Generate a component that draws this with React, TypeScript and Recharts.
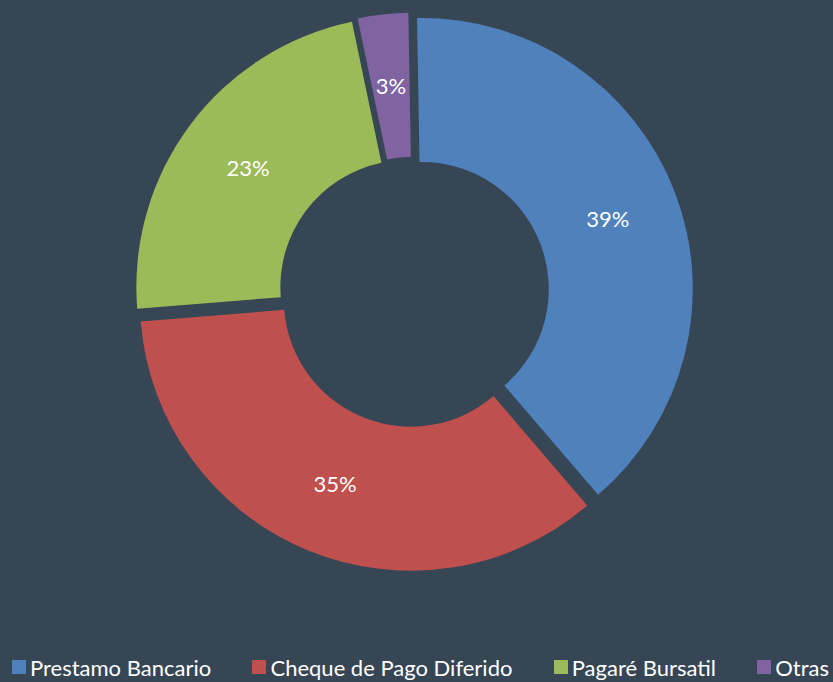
import { PieChart, Pie, Cell } from 'recharts';

const categories = ['Prestamo Bancario', 'Cheque de Pago Diferido', 'Pagaré Bursatil', 'Otras'];
const shares = [39, 35, 23, 3];
const colors = ['#4F81BD', '#C0504D', '#9BBB59', '#8064A2'];

const BG = '#374655';
const FONT = 'Lato, "Open Sans", sans-serif';
const CX = 414;
const CY = 292;
const OUTER = 271;
const INNER = 127;
const EXPLODE = 8.3;
const START = 91;

const rows = categories.map((name, i) => ({ name, value: shares[i] }));
const total = shares.reduce((a, b) => a + b, 0);
const RAD = Math.PI / 180;

// each slice is pushed out along its own bisector (Excel "point explosion")
function offsetFor(i: number) {
  const before = shares.slice(0, i).reduce((a, b) => a + b, 0);
  const mid = START - (360 * (before + shares[i] / 2)) / total;
  return { dx: EXPLODE * Math.cos(mid * RAD), dy: -EXPLODE * Math.sin(mid * RAD) };
}

function makeLabel(only: number) {
  return (p: any) => {
    if (p.index !== only) return null;
    const r = (p.innerRadius + p.outerRadius) / 2;
    const x = p.cx + r * Math.cos(-p.midAngle * RAD);
    const y = p.cy + r * Math.sin(-p.midAngle * RAD);
    return (
      <text x={x} y={y} fill="#fff" fontSize={22} fontFamily={FONT} textAnchor="middle" dominantBaseline="central">
        {`${Math.round(p.percent * 100)}%`}
      </text>
    );
  };
}

function LegendRow() {
  return (
    <div
      style={{
        position: 'absolute',
        left: 12,
        right: 4,
        top: 655,
        height: 24,
        display: 'flex',
        justifyContent: 'space-between',
        alignItems: 'center',
        fontFamily: FONT,
        fontSize: 22,
        color: '#fff',
        whiteSpace: 'nowrap',
      }}
    >
      {categories.map((c, i) => (
        <div key={c} style={{ display: 'flex', alignItems: 'center' }}>
          <span style={{ width: 14, height: 14, background: colors[i], marginRight: 4, display: 'inline-block' }} />
          <span>{c}</span>
        </div>
      ))}
    </div>
  );
}

export default function App() {
  return (
    <div style={{ position: 'relative', width: 833, height: 682, background: BG, overflow: 'hidden' }}>
      <style>{'body{margin:0}'}</style>
      <PieChart width={833} height={682} margin={{ top: 0, right: 0, bottom: 0, left: 0 }}>
        {categories.map((c, i) => {
          const { dx, dy } = offsetFor(i);
          return (
            <Pie
              key={c}
              data={rows}
              dataKey="value"
              nameKey="name"
              cx={CX + dx}
              cy={CY + dy}
              innerRadius={INNER}
              outerRadius={OUTER}
              startAngle={START}
              endAngle={START - 360}
              stroke="none"
              labelLine={false}
              label={makeLabel(i)}
              isAnimationActive={false}
            >
              {rows.map((r, j) => (
                <Cell key={r.name} fill={j === i ? colors[j] : 'transparent'} />
              ))}
            </Pie>
          );
        })}
      </PieChart>
      <LegendRow />
    </div>
  );
}
